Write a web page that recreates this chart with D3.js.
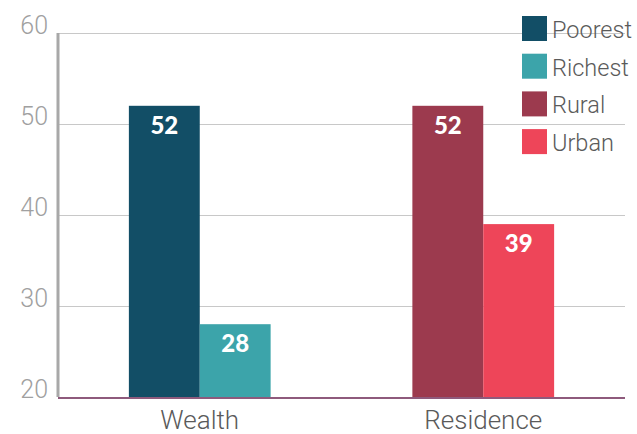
<!DOCTYPE html>
<html lang="en">
<head>
<meta charset="UTF-8">
<title>Wealth and residence</title>
<style>
  body { margin: 0; background: #fff; }
  .grid line { stroke: #c8c8c8; stroke-width: 1; }
  .grid path { display: none; }
  .axis-y text { fill: #a0a0a0; font-family: Roboto, sans-serif; font-weight: 300; font-size: 25px; }
  .axis-x text { fill: #5a5a5a; font-family: Roboto, sans-serif; font-weight: 300; font-size: 26px; }
  .legend text { fill: #5a5a5a; font-family: Roboto, sans-serif; font-weight: 300; font-size: 23.5px; }
  .value { fill: #fff; font-family: Lato, sans-serif; font-weight: 900; font-size: 24px; }
</style>
<script src="https://d3js.org/d3.v7.min.js"></script>
</head>
<body>
<script>
  const categories = ["Wealth", "Residence"];
  const seriesNames = [["Poorest", "Richest"], ["Rural", "Urban"]];
  const seriesValues = [[52, 28], [52, 39]];
  const legendNames = ["Poorest", "Richest", "Rural", "Urban"];
  const colors = ["#124e66", "#3ca4aa", "#9c3a4e", "#ee4559"];
  const yTicks = [20, 30, 40, 50, 60];

  const width = 637, height = 434;
  const margin = { top: 33, right: 12, bottom: 37, left: 58 };
  const innerW = width - margin.left - margin.right;
  const innerH = height - margin.top - margin.bottom;

  const svg = d3.select("body").append("svg")
    .attr("width", width)
    .attr("height", height);

  const g = svg.append("g")
    .attr("transform", `translate(${margin.left},${margin.top})`);

  const x = d3.scaleBand()
    .domain(categories)
    .range([0, innerW])
    .paddingInner(0.5)
    .paddingOuter(0.25);

  const xSub = d3.scaleBand()
    .domain([0, 1])
    .range([0, x.bandwidth()]);

  const y = d3.scaleLinear()
    .domain([20, 60])
    .range([innerH, 0]);

  // gridlines
  g.append("g")
    .attr("class", "grid")
    .call(d3.axisLeft(y).tickValues(yTicks).tickSize(-innerW).tickFormat(""));

  // bars
  const groups = g.selectAll(".group")
    .data(categories)
    .enter()
    .append("g")
    .attr("transform", d => `translate(${x(d)},0)`);

  groups.each(function (cat, ci) {
    const grp = d3.select(this);
    seriesValues[ci].forEach((v, si) => {
      const name = seriesNames[ci][si];
      grp.append("rect")
        .attr("x", xSub(si))
        .attr("y", y(v))
        .attr("width", xSub.bandwidth())
        .attr("height", innerH - y(v))
        .attr("fill", colors[legendNames.indexOf(name)]);
      grp.append("text")
        .attr("class", "value")
        .attr("text-anchor", "middle")
        .attr("x", xSub(si) + xSub.bandwidth() / 2)
        .attr("y", y(v) + 28)
        .text(v);
    });
  });

  // y axis labels
  const yAxis = g.append("g")
    .attr("class", "axis-y")
    .call(d3.axisLeft(y).tickValues(yTicks).tickSize(0).tickPadding(10));
  yAxis.select(".domain").remove();
  yAxis.selectAll("text").attr("dy", "0");

  g.append("line")
    .attr("x1", 0).attr("x2", 0)
    .attr("y1", 0).attr("y2", innerH)
    .attr("stroke", "#a8a8a8")
    .attr("stroke-width", 3);

  // x axis
  const xAxis = g.append("g")
    .attr("class", "axis-x")
    .attr("transform", `translate(0,${innerH})`)
    .call(d3.axisBottom(x).tickSize(0).tickPadding(14));
  xAxis.select(".domain").remove();
  xAxis.selectAll("text").attr("dy", "0.71em");

  g.append("line")
    .attr("x1", 0).attr("x2", innerW)
    .attr("y1", innerH + 1).attr("y2", innerH + 1)
    .attr("stroke", "#8e5a7c")
    .attr("stroke-width", 2);

  // legend
  const legend = svg.append("g")
    .attr("class", "legend")
    .attr("transform", "translate(522,16)");

  const items = legend.selectAll(".item")
    .data(legendNames)
    .enter()
    .append("g")
    .attr("transform", (d, i) => `translate(0,${i * 37.7})`);

  items.append("rect")
    .attr("width", 25)
    .attr("height", 25)
    .attr("fill", (d, i) => colors[i]);

  items.append("text")
    .attr("x", 30)
    .attr("y", 22)
    .text(d => d);
</script>
</body>
</html>
